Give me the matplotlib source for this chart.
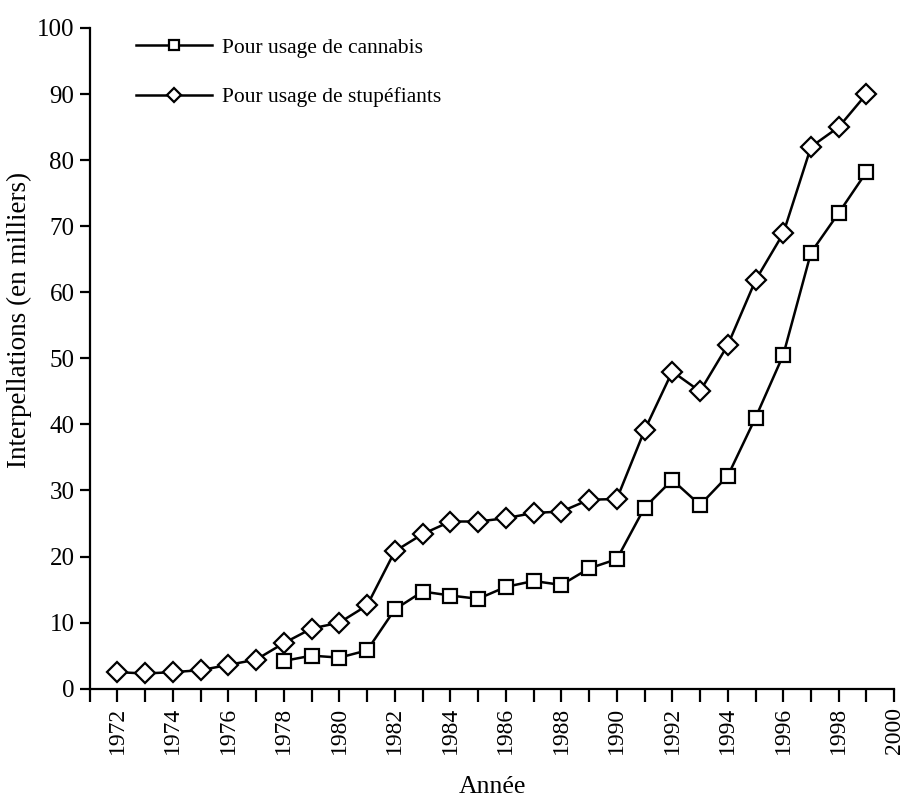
import matplotlib.pyplot as plt
from matplotlib.ticker import MultipleLocator

# Interpellations (thousands)
years_stup = list(range(1972, 2000))
stupefiants = [2.5, 2.3, 2.5, 2.8, 3.6, 4.4, 6.9, 9.1, 10.0, 12.6, 20.8, 23.4, 25.3, 25.3,
               25.8, 26.6, 26.8, 28.6, 28.7, 39.1, 48.0, 45.0, 52.0, 61.8, 68.9, 82.0, 85.0, 90.0]
years_cann = list(range(1978, 2000))
cannabis = [4.2, 5.0, 4.7, 5.8, 12.0, 14.7, 14.1, 13.6, 15.4, 16.3, 15.7, 18.2, 19.6,
            27.4, 31.6, 27.8, 32.2, 41.0, 50.5, 66.0, 72.0, 78.2]

plt.rcParams['font.family'] = ['Liberation Serif', 'DejaVu Serif']

fig = plt.figure(figsize=(9.06, 7.98), dpi=100)
ax = fig.add_axes([0.099, 0.137, 0.888, 0.828])

ax.plot(years_cann, cannabis, color='black', lw=1.8, marker='s', markersize=10,
        markerfacecolor='white', markeredgecolor='black', markeredgewidth=1.6,
        label='Pour usage de cannabis', zorder=3)
ax.plot(years_stup, stupefiants, color='black', lw=1.8, marker='D', markersize=10,
        markerfacecolor='white', markeredgecolor='black', markeredgewidth=1.6,
        label='Pour usage de stupéfiants', zorder=3)

ax.set_xlim(1971, 2000)
ax.set_ylim(0, 100)
ax.spines['top'].set_visible(False)
ax.spines['right'].set_visible(False)
ax.spines['left'].set_linewidth(1.6)
ax.spines['bottom'].set_linewidth(1.6)

ax.xaxis.set_minor_locator(MultipleLocator(1))
ax.set_xticks(range(1972, 2001, 2))
ax.yaxis.set_major_locator(MultipleLocator(10))
ax.tick_params(axis='x', which='both', length=9, width=1.6, direction='out', labelsize=17,
               labelrotation=90, pad=4)
ax.tick_params(axis='y', length=7, width=1.6, direction='out', labelsize=18, pad=4)

ax.set_xlabel('Année', fontsize=18.5, labelpad=16)
ax.set_ylabel('Interpellations (en milliers)', fontsize=19.5)
ax.yaxis.set_label_coords(-0.072, 0.558)

leg = ax.legend(loc='upper left', bbox_to_anchor=(0.058, 0.985), frameon=False, fontsize=15.5,
                markerscale=0.7, handlelength=3.5, handletextpad=0.5, labelspacing=1.35,
                borderpad=0, borderaxespad=0)

fig.savefig('out.png', dpi=100)
